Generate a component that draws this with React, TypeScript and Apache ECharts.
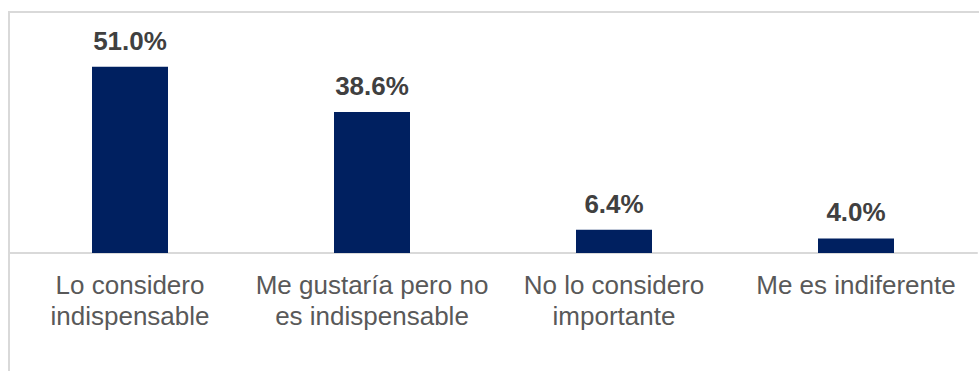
import React, { useEffect, useRef } from "react";
import * as echarts from "echarts";

const categories = [
  "Lo considero\nindispensable",
  "Me gustaría pero no\nes indispensable",
  "No lo considero\nimportante",
  "Me es indiferente",
];
const values = [51.0, 38.6, 6.4, 4.0];

export default function App() {
  const ref = useRef<HTMLDivElement>(null);
  useEffect(() => {
    if (!ref.current) return;
    const chart = echarts.init(ref.current, null, { renderer: "svg" });
    chart.setOption({
      animation: false,
      backgroundColor: "#ffffff",
      graphic: [
        {
          type: "rect",
          shape: { x: 9, y: 12, width: 1100, height: 500 },
          style: { fill: "none", stroke: "#d9d9d9", lineWidth: 2 },
          silent: true,
        },
      ],
      grid: { left: 9, right: 2, top: 34, bottom: 118, containLabel: false },
      xAxis: {
        type: "category",
        data: categories,
        axisLine: { show: true, lineStyle: { color: "#d9d9d9", width: 2 } },
        axisTick: { show: false },
        axisLabel: {
          interval: 0,
          color: "#595959",
          fontSize: 26,
          lineHeight: 31,
          fontFamily: "'Liberation Sans', Arial, sans-serif",
          margin: 16,
        },
      },
      yAxis: {
        type: "value",
        min: 0,
        max: 60,
        show: false,
        splitLine: { show: false },
      },
      series: [
        {
          type: "bar",
          data: values,
          barWidth: 76,
          itemStyle: { color: "#002060" },
          label: {
            show: true,
            position: "top",
            distance: 13,
            formatter: (p: any) => p.value.toFixed(1) + "%",
            color: "#404040",
            fontSize: 26,
            fontWeight: "bold",
            fontFamily: "'Liberation Sans', Arial, sans-serif",
          },
        },
      ],
    });
    return () => chart.dispose();
  }, []);
  return (
    <div
      ref={ref}
      style={{ position: "fixed", left: 0, top: 0, width: 979, height: 371 }}
    />
  );
}
